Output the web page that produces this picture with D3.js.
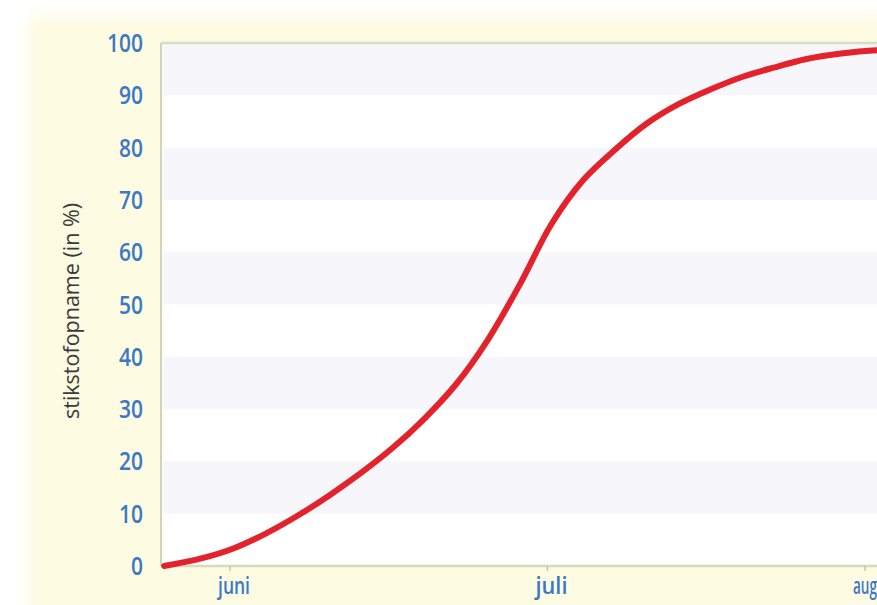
<!DOCTYPE html>
<html>
<head>
<meta charset="utf-8">
<script src="https://cdn.jsdelivr.net/npm/d3@7"></script>
<style>
  html, body { margin: 0; padding: 0; background: #ffffff; }
  svg { display: block; }
  .lbl { font-family: "Open Sans", "Noto Sans", "DejaVu Sans", sans-serif; }
</style>
</head>
<body>
<div id="chart"></div>
<script>
// Position along the season, in months from the start of June (juni = 0, juli = 1, aug = 2)
const maand = [-0.22, -0.1, 0.0, 0.1, 0.2, 0.3, 0.4, 0.5, 0.6, 0.7, 0.8, 0.9, 1.0, 1.1, 1.2, 1.3, 1.4, 1.5, 1.6, 1.7, 1.8, 1.9, 2.0, 2.05];
// Cumulative nitrogen uptake (%)
const opname = [0, 1.5, 3.4, 6.2, 9.6, 13.5, 17.8, 22.6, 28.2, 34.8, 43.3, 53.8, 65.4, 73.8, 79.6, 84.6, 88.3, 91.1, 93.5, 95.3, 96.9, 97.9, 98.5, 98.7];

const maandLabels = ["juni", "juli", "aug"];
const maandTicks = [0, 1, 2];
const yTicks = [0, 10, 20, 30, 40, 50, 60, 70, 80, 90, 100];
const banden = [[10, 20], [30, 40], [50, 60], [70, 80], [90, 100]];

const W = 877, H = 605;
const plotL = 161, plotT = 43, plotB = 566, plotR = 900;

const svg = d3.select("#chart").append("svg").attr("width", W).attr("height", H);

// soft paper background
const defs = svg.append("defs");
const blur = defs.append("filter").attr("id", "soft").attr("x", "-10%").attr("y", "-10%").attr("width", "120%").attr("height", "120%");
blur.append("feGaussianBlur").attr("stdDeviation", 8);
svg.append("rect").attr("x", 0).attr("y", 0).attr("width", W).attr("height", H).attr("fill", "#ffffff");
svg.append("rect").attr("x", 28).attr("y", 16).attr("width", W + 40).attr("height", H + 40)
  .attr("fill", "#fdfbe1").attr("filter", "url(#soft)");

const x = d3.scaleLinear().domain([0, 2]).range([234, 869]);
const y = d3.scaleLinear().domain([0, 100]).range([plotB, plotT]);

// plot area with faint horizontal bands
svg.append("rect").attr("x", plotL).attr("y", plotT).attr("width", plotR - plotL).attr("height", plotB - plotT)
  .attr("fill", "#ffffff");
svg.append("g").selectAll("rect").data(banden).join("rect")
  .attr("x", plotL + 2).attr("width", plotR - plotL)
  .attr("y", d => y(d[1])).attr("height", d => y(d[0]) - y(d[1]))
  .attr("fill", "#f7f7fb");

// frame lines
svg.append("line").attr("x1", plotL).attr("x2", plotR).attr("y1", plotT).attr("y2", plotT)
  .attr("stroke", "#d9dcc6").attr("stroke-width", 2.5);
svg.append("line").attr("x1", plotL).attr("x2", plotL).attr("y1", plotT).attr("y2", plotB)
  .attr("stroke", "#c9d9b4").attr("stroke-width", 2);
svg.append("line").attr("x1", plotL).attr("x2", plotR).attr("y1", plotB).attr("y2", plotB)
  .attr("stroke", "#d4dcbc").attr("stroke-width", 2.5);

// month ticks
svg.append("g").selectAll("line").data(maandTicks).join("line")
  .attr("x1", d => x(d) - 4).attr("x2", d => x(d) - 4)
  .attr("y1", plotB).attr("y2", plotB + 5)
  .attr("stroke", "#b9cf9e").attr("stroke-width", 1.5);

// y tick labels (narrow figures)
svg.append("g").selectAll("text").data(yTicks).join("text")
  .attr("class", "lbl")
  .attr("x", 143).attr("y", d => y(d)).attr("dy", "0.36em")
  .attr("text-anchor", "end")
  .attr("font-size", 25).attr("font-weight", 600)
  .attr("fill", "#3b78c6")
  .attr("textLength", d => String(d).length * 12)
  .attr("lengthAdjust", "spacingAndGlyphs")
  .text(d => d);

// month labels
svg.append("g").selectAll("text").data(maandTicks).join("text")
  .attr("class", "lbl")
  .attr("x", d => x(d) - 16).attr("y", 594)
  .attr("font-size", 23).attr("font-weight", 600)
  .attr("fill", "#3b78c6")
  .attr("textLength", (d, i) => maandLabels[i].length * 8)
  .attr("lengthAdjust", "spacingAndGlyphs")
  .text((d, i) => maandLabels[i]);

// y axis title
svg.append("text").attr("class", "lbl")
  .attr("transform", "translate(79,311) rotate(-90)")
  .attr("text-anchor", "middle")
  .attr("font-size", 21)
  .attr("fill", "#3a3a3a")
  .attr("textLength", 216)
  .attr("lengthAdjust", "spacingAndGlyphs")
  .text("stikstofopname (in %)");

// uptake curve
const line = d3.line().x((d, i) => x(maand[i])).y(d => y(d)).curve(d3.curveCatmullRom.alpha(0.5));
svg.append("path").datum(opname)
  .attr("d", line)
  .attr("fill", "none")
  .attr("stroke", "#e3222b")
  .attr("stroke-width", 6)
  .attr("stroke-linecap", "round");
</script>
</body>
</html>
